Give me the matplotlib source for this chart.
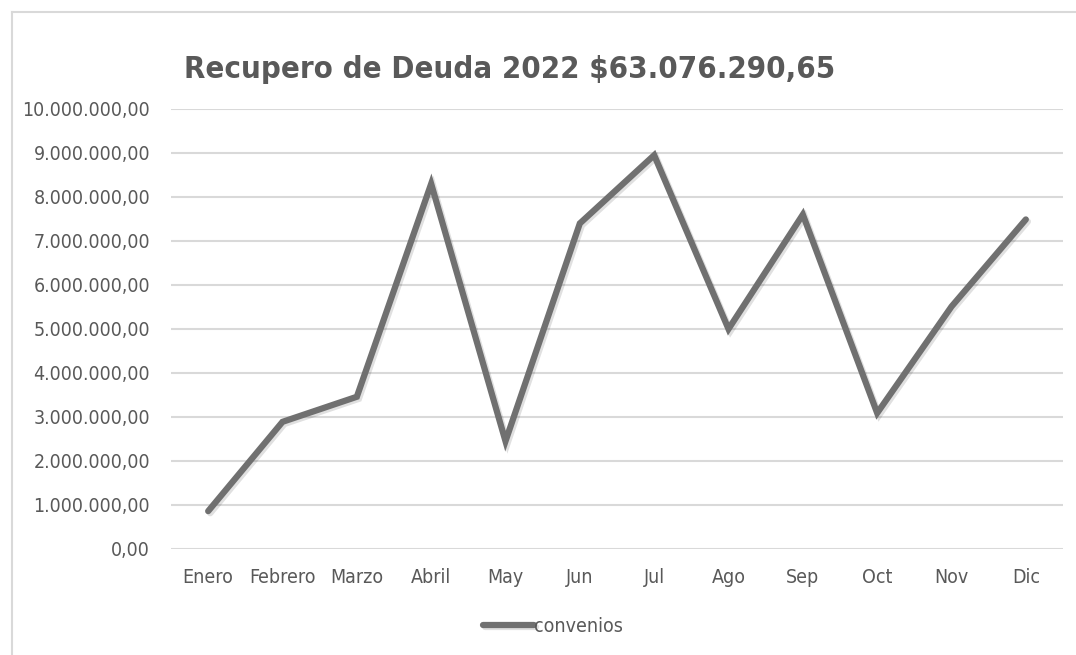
import matplotlib.pyplot as plt
import matplotlib.patheffects as pe
from matplotlib.lines import Line2D
from matplotlib.ticker import FuncFormatter

# condensed face, closest to the narrow spreadsheet font
plt.rcParams['font.family'] = ['DejaVu Sans']
plt.rcParams['font.stretch'] = 'condensed'

# monthly debt recovery (convenios)
meses = ['Enero', 'Febrero', 'Marzo', 'Abril', 'May', 'Jun',
         'Jul', 'Ago', 'Sep', 'Oct', 'Nov', 'Dic']
convenios = [860000, 2890000, 3460000, 8300000, 2450000, 7400000,
             8950000, 5000000, 7600000, 3090000, 5510000, 7490000]
titulo = 'Recupero de Deuda 2022 $63.076.290,65'

gris_texto = '#595959'
gris_linea = '#707070'
gris_grid = '#d9d9d9'

fig = plt.figure(figsize=(10.76, 6.55), dpi=100)
ax = fig.add_axes([171 / 1076, 1 - 549 / 655, 892 / 1076, 440 / 655])

# outer chart border (top and left edges visible)
bx, by = 12 / 1076, 1 - 12 / 655
fig.add_artist(Line2D([bx, 1], [by, by], color=gris_grid, linewidth=1.5))
fig.add_artist(Line2D([bx, bx], [0, by], color=gris_grid, linewidth=1.5))

x = list(range(len(meses)))
ax.plot(x, convenios, color=gris_linea, linewidth=4.5, solid_joinstyle='miter',
        solid_capstyle='round', label='convenios',
        path_effects=[pe.SimpleLineShadow(offset=(1.5, -1.5), shadow_color='#000000', alpha=0.12),
                      pe.Normal()])

ax.set_xlim(-0.5, len(meses) - 0.5)
ax.set_ylim(0, 10000000)
ax.set_yticks(range(0, 10000001, 1000000))
ax.yaxis.set_major_formatter(FuncFormatter(lambda v, p: f'{v:,.2f}'.replace(',', 'X').replace('.', ',').replace('X', '.')))
ax.set_xticks(x)
ax.set_xticklabels(meses)

ax.grid(axis='y', color=gris_grid, linewidth=1.5)
ax.set_axisbelow(True)
for s in ax.spines.values():
    s.set_visible(False)
ax.tick_params(length=0, labelsize=14, colors=gris_texto)
ax.tick_params(axis='x', pad=14)
ax.tick_params(axis='y', pad=15)

fig.text(510 / 1076, 1 - 69 / 655, titulo, ha='center', va='center',
         fontsize=22.3, fontweight='bold', color=gris_texto)

leg = fig.legend(loc='center', bbox_to_anchor=(553 / 1076, 1 - 626 / 655), frameon=False,
                 fontsize=14, handlelength=2.6, handletextpad=0.0)
for t in leg.get_texts():
    t.set_color(gris_texto)

fig.savefig('out.png', dpi=100)
